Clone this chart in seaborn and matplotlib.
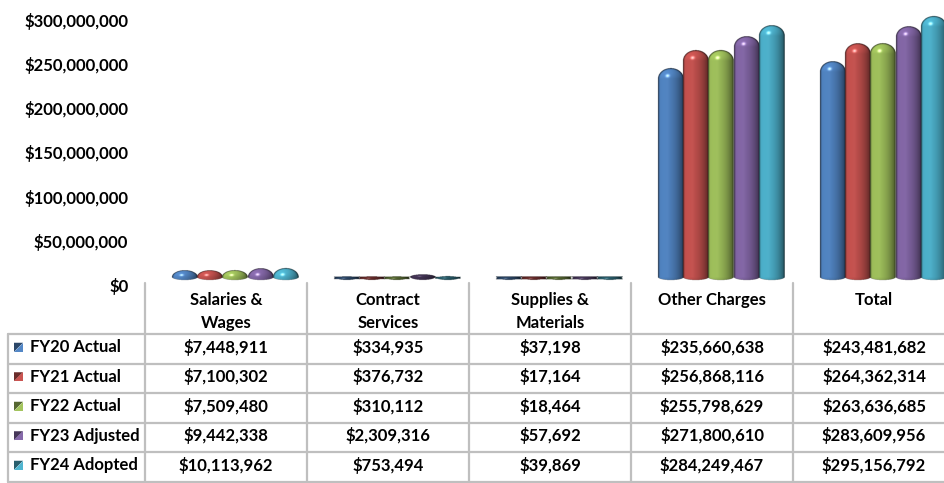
import numpy as np
import pandas as pd
import matplotlib
matplotlib.use("Agg")
import matplotlib.pyplot as plt
import seaborn as sns
from matplotlib.transforms import Affine2D
from matplotlib.patches import Polygon
from matplotlib.lines import Line2D

# ---- data -------------------------------------------------------------
categories = ["Salaries &\nWages", "Contract\nServices", "Supplies &\nMaterials",
              "Other Charges", "Total"]
series = ["FY20 Actual", "FY21 Actual", "FY22 Actual", "FY23 Adjusted", "FY24 Adopted"]
fy20_actual = [7448911, 334935, 37198, 235660638, 243481682]
fy21_actual = [7100302, 376732, 17164, 256868116, 264362314]
fy22_actual = [7509480, 310112, 18464, 255798629, 263636685]
fy23_adjusted = [9442338, 2309316, 57692, 271800610, 283609956]
fy24_adopted = [10113962, 753494, 39869, 284249467, 295156792]
colors = ["#4F81BD", "#C0504D", "#9BBB59", "#8064A2", "#4BACC6"]
y_ticks = [0, 50_000_000, 100_000_000, 150_000_000, 200_000_000, 250_000_000, 300_000_000]

values = [fy20_actual, fy21_actual, fy22_actual, fy23_adjusted, fy24_adopted]
df = pd.DataFrame(
    [(cat, s, v) for s, vals in zip(series, values) for cat, v in zip(categories, vals)],
    columns=["Category", "Series", "Amount"],
)

# ---- figure -----------------------------------------------------------
W, H = 944, 483
sns.set_theme(style="white")
plt.rcParams["font.family"] = ["Lato", "DejaVu Sans"]
plt.rcParams["font.weight"] = "bold"
FS = 12.0

fig = plt.figure(figsize=(W / 100, H / 100), dpi=100)
fig.patch.set_facecolor("white")

# plot area: $0 at y=285px, $300M at y=20px, columns 162px wide starting at x=145px
zero_px, top_val = 285.0, 320e6
ppd = (285.0 - 20.0) / 300e6
top_px = zero_px - top_val * ppd
ax = fig.add_axes([145 / W, (H - zero_px) / H, 810 / W, (zero_px - top_px) / H])

sns.barplot(data=df, x="Category", y="Amount", hue="Series", order=categories,
            hue_order=series, palette=colors, saturation=1, width=0.78,
            errorbar=None, legend=False, ax=ax)

ax.set_xlim(-0.5, len(categories) - 0.5)
ax.set_ylim(0, top_val)
ax.set_autoscale_on(False)
ax.set_xticks([])
ax.set_xlabel("")
ax.set_ylabel("")
ax.set_yticks(y_ticks)
ax.set_yticklabels([f"${v:,.0f}" for v in y_ticks], fontsize=FS, fontweight="bold")
ax.tick_params(axis="y", length=0, pad=12, colors="black")
for sp in ax.spines.values():
    sp.set_visible(False)
ax.set_facecolor("none")

# ---- cylinder rendering for every bar patch ---------------------------
L = np.array([-0.5, 0.55, 0.75]); L /= np.linalg.norm(L)
Hv = L + np.array([0, 0, 1.0]); Hv /= np.linalg.norm(Hv)
dx_off, dy_off = 9.0, 8.0   # depth offset of the 3-D bars (pixels)
ss = 4                      # supersampling per pixel


def cylinder(patch):
    base = np.array(matplotlib.colors.to_rgb(patch.get_facecolor()))
    x, w, h = patch.get_x(), patch.get_width(), patch.get_height()
    (xa, ya), (xb, yb) = ax.transData.transform([(x, 0), (x + w, h)])
    xa += dx_off; xb += dx_off; ya += dy_off; yb += dy_off
    wpx, hpx = xb - xa, yb - ya
    rx = wpx / 2.0
    cx = xa + rx
    rc = min(0.42 * wpx, max(hpx, 2.5))
    yc = hpx - rc
    rb = 3.0
    X0, X1 = xa - 1, xb + 1
    Y0, Y1 = ya - rb - 1, yb + 1
    nxp = int(np.ceil((X1 - X0) * ss))
    nyp = int(np.ceil((Y1 - Y0) * ss))
    gx = X0 + (np.arange(nxp) + 0.5) / ss
    gy = Y0 + (np.arange(nyp) + 0.5) / ss - ya
    XX, YY = np.meshgrid(gx, gy)
    u = (XX - cx) / rx
    wcap = (YY - yc) / rc
    body = (np.abs(u) <= 1) & (YY >= 0) & (YY <= yc)
    cap = (u ** 2 + wcap ** 2 <= 1) & (YY >= yc)
    bot = (u ** 2 + (YY / rb) ** 2 <= 1) & (YY < 0)
    inside = body | cap | bot

    uc = np.clip(u, -1, 1)
    ny = np.where(cap, np.clip(wcap, 0, 1), np.where(bot, 0.25 * YY / rb, 0.0))
    nz = np.sqrt(np.clip(1 - uc ** 2 - ny ** 2, 0, 1))
    n = np.stack([uc, ny, nz], axis=-1)
    n /= np.linalg.norm(n, axis=-1, keepdims=True) + 1e-9
    diff = np.clip(n @ L, 0, 1)
    spec = np.clip(n @ Hv, 0, 1) ** 90
    col = base[None, None, :] * (0.58 + 0.52 * diff[..., None]) + 0.55 * spec[..., None]

    # darker rim along the silhouette
    rim = np.where(cap, np.sqrt(uc ** 2 + np.clip(wcap, 0, 1) ** 2), np.abs(uc))
    rim_w = 1.0 - 1.8 / max(rx, 1.0)
    dark = np.clip((rim - rim_w) / (1 - rim_w), 0, 1) ** 1.2
    col = col * (1 - 0.7 * dark[..., None])
    # nearly empty bars show only their shaded top face
    if hpx < 2.5:
        col = col * 0.5
    col = np.clip(col, 0, 1)

    edge = base * 0.25
    rgba = np.zeros(XX.shape + (4,))
    rgba[..., :3] = np.where(inside[..., None], col, edge)
    rgba[..., 3] = inside.astype(float)

    inv = ax.transData.inverted()
    (ex0, ey0), (ex1, ey1) = inv.transform([(X0, Y0), (X0 + nxp / ss, Y0 + nyp / ss)])
    ax.imshow(rgba, extent=[ex0, ex1, ey0, ey1], origin="lower", aspect="auto",
              interpolation="antialiased", zorder=3)


for p in list(ax.patches):
    cylinder(p)
    p.set_visible(False)

ax.set_xlim(-0.5, len(categories) - 0.5)
ax.set_ylim(0, top_val)

# ---- data table below the plot ----------------------------------------
pix = Affine2D().scale(1 / W, -1 / H).translate(0, 1) + fig.transFigure
grid_c = "#BFBFBF"


def col_x(v):
    return ax.transData.transform([(v, 0)])[0][0]


row_lines = [334, 363.5, 393, 422.5, 452, 481.5]
for yl in row_lines:
    fig.add_artist(Line2D([8, W], [yl, yl], color=grid_c, lw=1.6, transform=pix))
fig.add_artist(Line2D([8, 8], [row_lines[0], row_lines[-1]], color=grid_c, lw=1.6, transform=pix))
for i in range(len(categories) + 1):
    xb = col_x(i - 0.5)
    fig.add_artist(Line2D([xb, xb], [283, H], color=grid_c, lw=1.6, transform=pix))

# header cells
for i, cat in enumerate(categories):
    xc = col_x(i)
    for k, line in enumerate(cat.split("\n")):
        fig.text(xc, 300 + 23 * k, line, transform=pix, ha="center", va="center",
                 fontsize=FS, fontweight="bold", color="black")

# body rows: legend key, series name and the five amounts
for r, (s, vals, c) in enumerate(zip(series, values, colors)):
    yc = (row_lines[r] + row_lines[r + 1]) / 2 - 1.5
    rgb = np.array(matplotlib.colors.to_rgb(c))
    k0, k1, t0, t1 = 14, 23, yc - 4.5, yc + 4.5
    fig.add_artist(Polygon([[k0, t0], [k1, t0], [k0, t1]], closed=True,
                           facecolor=rgb * 0.55, edgecolor="none", transform=pix))
    fig.add_artist(Polygon([[k1, t0], [k1, t1], [k0, t1]], closed=True,
                           facecolor=np.clip(rgb * 1.05, 0, 1), edgecolor="none", transform=pix))
    fig.text(30, yc, s, transform=pix, ha="left", va="center",
             fontsize=FS, fontweight="bold", color="black")
    for i, v in enumerate(vals):
        fig.text(col_x(i), yc, f"${v:,.0f}", transform=pix, ha="center", va="center",
                 fontsize=FS, fontweight="bold", color="black")

fig.savefig("out.png", dpi=100, facecolor="white")
